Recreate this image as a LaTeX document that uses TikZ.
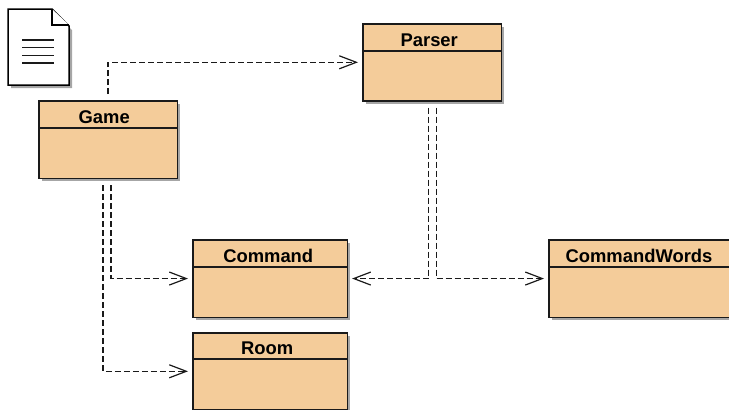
\documentclass[tikz,border=0pt]{standalone}
\usepackage{fontspec}
\setmainfont{Liberation Sans}
\usetikzlibrary{arrows.meta}
\definecolor{classfill}{HTML}{F4CC9A}
\definecolor{ink}{HTML}{1A1A1A}
\tikzset{
  x=1pt,y=-1pt,
  classbox/.style={draw=ink,line width=1.6pt,fill=classfill,inner sep=0pt,anchor=north west},
  shadowbox/.style={fill=black!35,inner sep=0pt,anchor=north west,draw=none},
  classtitle/.style={font=\bfseries\fontsize{18.4}{19}\selectfont,text=black,anchor=center,inner sep=0pt},
  divider/.style={draw=ink,line width=1.3pt},
  dep/.style={draw=ink,line width=1.4pt,dash pattern=on 6pt off 3pt,
    -{Straight Barb[length=17pt,width=13pt,line width=1.2pt]},shorten >=4pt,shorten <=6pt},
  docicon/.style={draw=black,line width=1.5pt,fill=white,line join=miter},
  docline/.style={draw=ink,line width=1.3pt},
}
\newcommand{\classnode}[8]{% name, x, y, w, h, div offset, title center x offset, title
  \node[shadowbox,minimum width=#4pt,minimum height=#5pt] at (#2+3.5,#3+3.5) {};
  \node[classbox,minimum width=#4pt,minimum height=#5pt] (#1) at (#2,#3) {};
  \draw[divider] (#2,#3+#6) -- (#2+#4,#3+#6);
  \node[classtitle] (#1t) at (#2+#4/2+#7,#3+#6/2+3) {#8};
}
\begin{document}
\begin{tikzpicture}
\useasboundingbox (0,0) rectangle (729,410);
% document icon
\fill[black!35] (11,13) -- (55,13) -- (72,30) -- (72,88) -- (11,88) -- cycle;
\path[docicon] (8,9) -- (52,9) -- (69,26) -- (69,85) -- (8,85) -- cycle;
\path[docicon] (52,9) -- (52,25) -- (69,25);
\foreach \ly in {40,47.5,55.5,63} \path[docline] (22,\ly) -- (54,\ly);
% classes
\classnode{game}{38}{100}{138.5}{77.5}{28}{-3}{Game}
\classnode{parser}{362}{23}{138.5}{77}{28}{-2}{Parser}
\classnode{command}{192}{239}{154.5}{77.5}{28}{-1}{Command}
\classnode{room}{192}{332}{154.5}{77}{27}{-2}{Room}
\classnode{words}{548}{239}{182}{77.5}{28}{0}{CommandWords}
% connectors
\draw[dep] (game.north) |- (parser.west);
\draw[dep] ([xshift=3pt]game.south) |- (command.west);
\draw[dep] ([xshift=-5pt]game.south) |- (room.west);
\draw[dep] ([xshift=-3.5pt]parser.south) |- (command.east);
\draw[dep] ([xshift=4.5pt]parser.south) |- (words.west);
\end{tikzpicture}
\end{document}
